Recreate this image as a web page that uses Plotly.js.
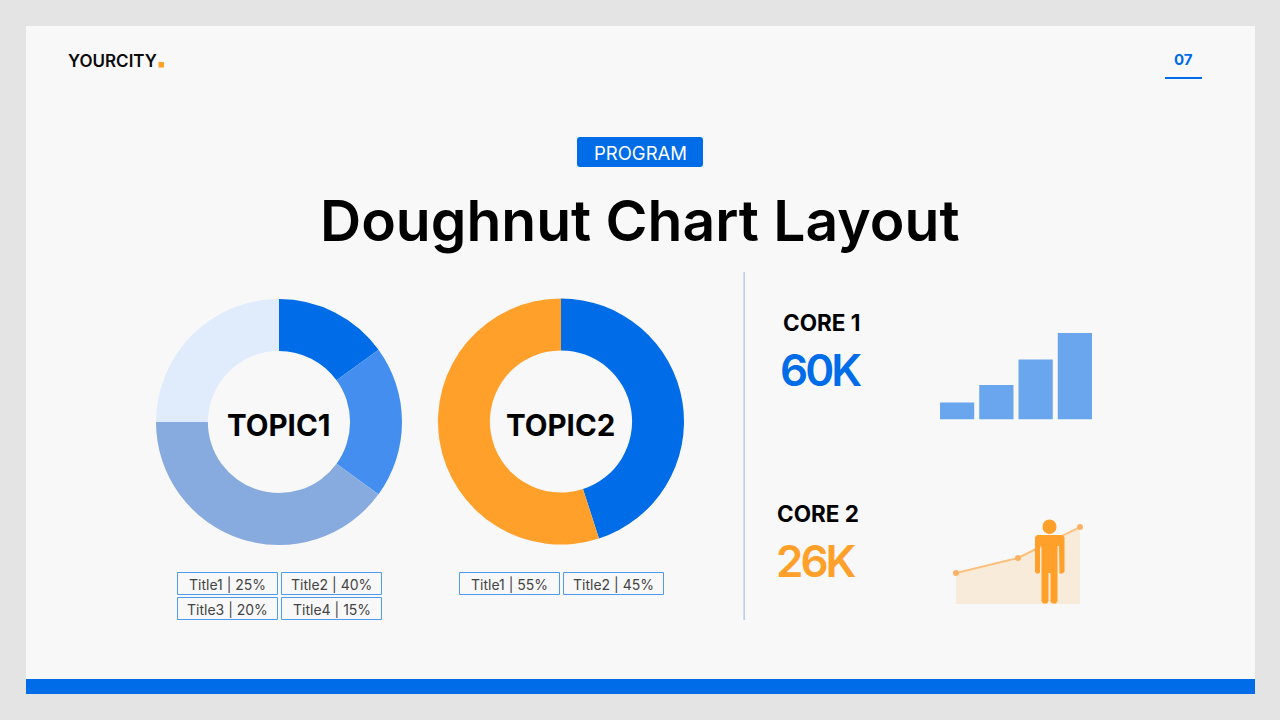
<!DOCTYPE html>
<html>
<head>
<meta charset="utf-8">
<script src="https://cdn.plot.ly/plotly-3.0.1.min.js"></script>
<style>html,body{margin:0;padding:0;background:#e4e4e4}#c{width:1280px;height:720px}</style>
</head>
<body>
<div id="c"></div>
<script>
const topic1Labels = ['Title4', 'Title3', 'Title2', 'Title1'];
const topic1Values = [15, 20, 40, 25];
const topic1Colors = ['#006ce8', '#438eee', '#87abdf', '#e0ecfc'];
const topic2Labels = ['Title2', 'Title1'];
const topic2Values = [45, 55];
const topic2Colors = ['#006ce8', '#ffa02b'];
const legend1 = ['Title1 | 25%', 'Title2 | 40%', 'Title3 | 20%', 'Title4 | 15%'];
const legend2 = ['Title1 | 55%', 'Title2 | 45%'];
const barCats = [0, 1, 2, 3];
const barValues = [17, 34.5, 60, 86.5];
const lineX = [0, 1, 2];
const lineValues = [31, 46, 77];

const W = 1280, H = 720;
const px = x => x / W, py = y => 1 - y / H;
const INTER = 'Inter, sans-serif';

function rect(x0, y0, x1, y1, fill, lineColor, layer) {
  return {type:'rect', xref:'paper', yref:'paper', x0:px(x0), x1:px(x1), y0:py(y0), y1:py(y1),
    fillcolor:fill, line:{width: lineColor ? 1 : 0, color: lineColor || 'rgba(0,0,0,0)'}, layer: layer || 'below'};
}
function poly(points, fill) {
  const d = points.map((p, i) => (i ? 'L' : 'M') + px(p[0]) + ',' + py(p[1])).join(' ') + ' Z';
  return {type:'path', xref:'paper', yref:'paper', path:d, fillcolor:fill, line:{width:0}, layer:'above'};
}
function roundRect(x0, y0, x1, y1, r, fill) {
  const X = px, Y = py;
  const rx = r / W, ry = r / H;
  const d = `M${X(x0)+rx},${Y(y0)} L${X(x1)-rx},${Y(y0)} Q${X(x1)},${Y(y0)} ${X(x1)},${Y(y0)-ry} L${X(x1)},${Y(y1)+ry} Q${X(x1)},${Y(y1)} ${X(x1)-rx},${Y(y1)} L${X(x0)+rx},${Y(y1)} Q${X(x0)},${Y(y1)} ${X(x0)},${Y(y1)+ry} L${X(x0)},${Y(y0)-ry} Q${X(x0)},${Y(y0)} ${X(x0)+rx},${Y(y0)} Z`;
  return {type:'path', xref:'paper', yref:'paper', path:d, fillcolor:fill, line:{width:0}, layer:'below'};
}
function text(t, x, y, size, color, weight, anchor) {
  return {text:t, xref:'paper', yref:'paper', x:px(x), y:py(y), showarrow:false,
    xanchor:anchor || 'center', yanchor:'middle', borderpad:0,
    font:{family:INTER, size:size, color:color, weight:weight || 400}};
}
const tight = (t, s) => `<span style="letter-spacing:${s}px">${t}</span>`;

const traces = [
  {type:'pie', labels:topic1Labels, values:topic1Values, sort:false, direction:'clockwise', rotation:0,
   hole:0.578, textinfo:'none', hoverinfo:'label+percent', showlegend:false,
   marker:{colors:topic1Colors, line:{width:0}},
   domain:{x:[px(156), px(402)], y:[py(545), py(299)]}},
  {type:'pie', labels:topic2Labels, values:topic2Values, sort:false, direction:'clockwise', rotation:0,
   hole:0.578, textinfo:'none', hoverinfo:'label+percent', showlegend:false,
   marker:{colors:topic2Colors, line:{width:0}},
   domain:{x:[px(438), px(684)], y:[py(544.5), py(298.5)]}},
  {type:'bar', x:barCats, y:barValues, xaxis:'x', yaxis:'y', showlegend:false,
   marker:{color:'#69a6ee', line:{width:0}}},
  {type:'scatter', mode:'lines+markers', x:lineX, y:lineValues, xaxis:'x2', yaxis:'y2', showlegend:false,
   fill:'tozeroy', fillcolor:'rgba(255,160,43,0.15)', cliponaxis:false,
   line:{color:'#fcc07c', width:2}, marker:{color:'#fcb264', size:6}}
];

const shapes = [
  rect(26, 26, 1255, 694, '#f8f8f9'),
  rect(26, 679, 1255, 694, '#006ce8'),
  rect(158.5, 62, 164, 67.5, '#ffa02b'),
  rect(1165, 77, 1202, 79, '#006ce8'),
  roundRect(577, 137, 703, 167, 3, '#006ce8'),
  rect(743.5, 272, 744.8, 620, '#a9c4ea'),
  {type:'circle', xref:'paper', yref:'paper', x0:px(1042.5), x1:px(1056.5), y0:py(534), y1:py(519.5),
   fillcolor:'#ffa02b', line:{width:0}, layer:'above'},
  poly([[1037,535],[1062,535],[1064.5,537],[1064.5,572],[1062,573.5],[1059.5,573.5],[1059,546],[1057.5,546],
        [1057.5,601],[1056,603.5],[1052,603.5],[1050.5,601],[1050.5,573],[1048.5,573],[1048.5,601],[1047,603.5],
        [1043,603.5],[1041.5,601],[1041.5,546],[1040,546],[1040,572],[1039,573.5],[1036.5,573.5],[1035,572],[1035,537]], '#ffa02b')
];

[[177, 572, 278, 595], [281, 572, 382, 595], [177, 597, 278, 620], [281, 597, 382, 620],
 [459, 572, 560, 595], [563, 572, 664, 595]].forEach(b => {
  shapes.push(rect(b[0] + 0.5, b[1] + 0.5, b[2] - 0.5, b[3] - 0.5, 'rgba(0,0,0,0)', '#4d9bea'));
});

const annotations = [
  text('YOURCITY', 66.5, 61, 17, '#0b0b0b', 600, 'left'),
  text('07', 1183.5, 59.5, 15, '#006ce8', 700),
  text('PROGRAM', 640, 153, 18.5, '#ffffff', 400),
  text('Doughnut Chart Layout', 640, 220.5, 57, '#000000', 600),
  text('TOPIC1', 278, 425, 29.5, '#000000', 700),
  text('TOPIC2', 560.5, 425, 29.5, '#000000', 700),
  text('CORE 1', 821, 322.5, 22.5, '#000000', 700),
  text(tight('60K', -3), 820, 370, 44, '#006ce8', 600),
  text('CORE 2', 818, 513.5, 22.5, '#000000', 700),
  text(tight('26K', -3), 816, 561, 44, '#ffa02b', 600),
  text(legend1[0], 227.5, 584, 14, '#444444', 400),
  text(legend1[1], 331.5, 584, 14, '#444444', 400),
  text(legend1[2], 227.5, 609, 14, '#444444', 400),
  text(legend1[3], 331.5, 609, 14, '#444444', 400),
  text(legend2[0], 509.5, 584, 14, '#444444', 400),
  text(legend2[1], 613.5, 584, 14, '#444444', 400)
];

const hidden = {visible:false, fixedrange:true};
const layout = {
  width:W, height:H, margin:{l:0, r:0, t:0, b:0, pad:0},
  paper_bgcolor:'#e4e4e4', plot_bgcolor:'rgba(0,0,0,0)',
  showlegend:false, bargap:0.128,
  xaxis:Object.assign({domain:[px(940), px(1092)], range:[-0.436, 3.436], anchor:'y'}, hidden),
  yaxis:Object.assign({domain:[py(419.5), py(333)], range:[0, 86.5], anchor:'x'}, hidden),
  xaxis2:Object.assign({domain:[px(956), px(1080)], range:[0, 2], anchor:'y2'}, hidden),
  yaxis2:Object.assign({domain:[py(604), py(527)], range:[0, 77], anchor:'x2'}, hidden),
  shapes:shapes, annotations:annotations
};
Plotly.newPlot('c', traces, layout, {displayModeBar:false, responsive:false});
</script>
</body>
</html>
